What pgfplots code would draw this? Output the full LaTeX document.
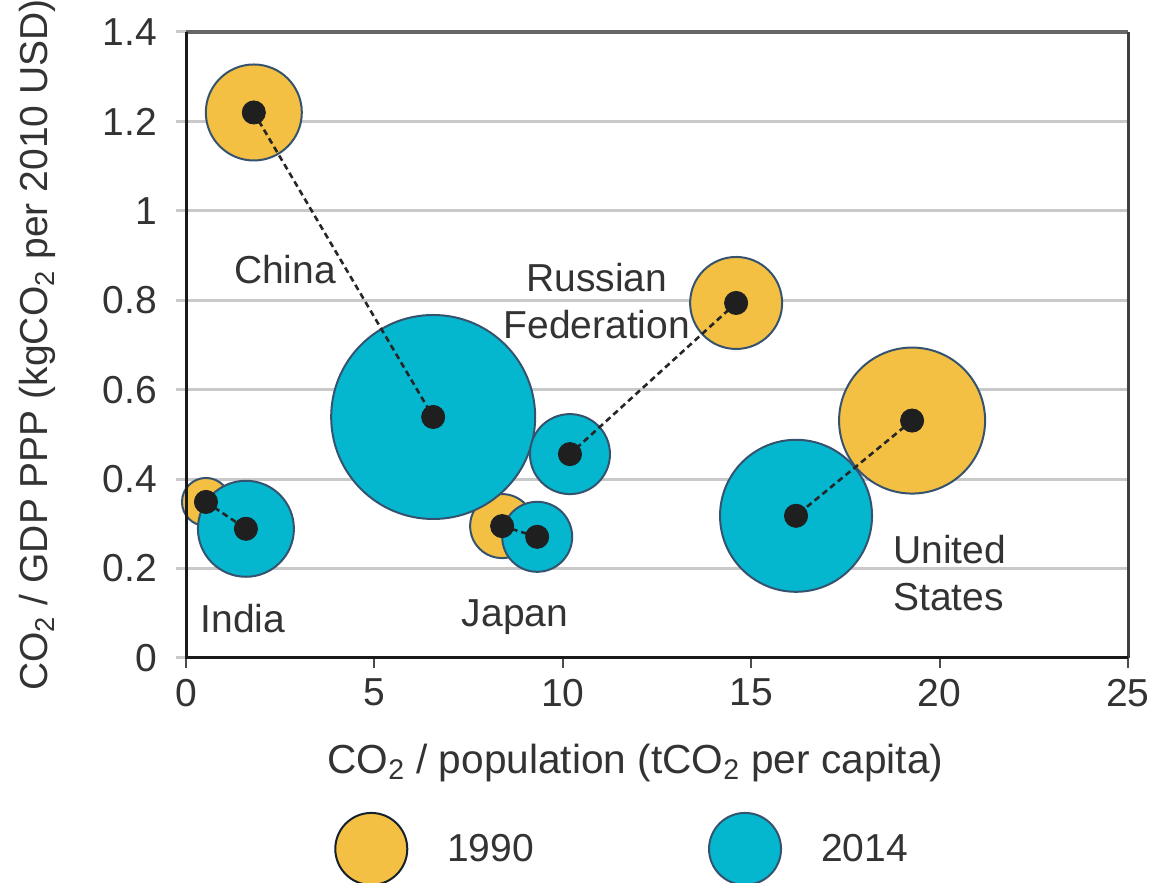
\documentclass[border=0pt]{standalone}
\usepackage{pgfplots}
\pgfplotsset{compat=1.18}
\usepackage{fontspec}
\setmainfont{Liberation Sans}

\definecolor{yel}{HTML}{F4C043}
\definecolor{cya}{HTML}{04B7CF}
\definecolor{edge}{HTML}{35536E}
\definecolor{txt}{HTML}{333333}
\definecolor{gridc}{HTML}{C9C9C9}

% bubble styles; mark size = bubble radius in pt
\pgfplotsset{
  b90/.style={only marks, mark=*, forget plot, mark size=#1,
    mark options={draw=edge, fill=yel, line width=1pt}},
  b14/.style={only marks, mark=*, forget plot, mark size=#1,
    mark options={draw=edge, fill=cya, line width=1pt}},
  link/.style={black!85, line width=1.3pt, dash pattern=on 3pt off 2pt, forget plot},
}

\begin{document}
\begin{tikzpicture}[font=\fontsize{19.5}{23.5}\selectfont, text=txt]
\path[use as bounding box] (0,0) rectangle (576pt,441.5pt);
\begin{axis}[
  at={(93pt,112.5pt)}, anchor=south west,
  scale only axis, width=471pt, height=313pt,
  xmin=0, xmax=25, ymin=0, ymax=1.4,
  xtick={0,5,10,15,20,25},
  ytick={0,0.2,0.4,0.6,0.8,1,1.2,1.4},
  /pgf/number format/assume math mode=true,
  axis line style={draw=none},
  tick align=outside, major tick length=5pt,
  xtick pos=lower, ytick pos=left,
  xtick style={draw=black!70, line width=1pt},
  ytick style={draw=gridc, line width=1.5pt},
  yticklabel style={xshift=-6pt},
  xticklabel style={yshift=-2pt},
  ymajorgrids, major grid style={draw=gridc, line width=1.5pt},
  clip=false, clip mode=individual,
  xlabel={CO\textsubscript{2} / population (tCO\textsubscript{2} per capita)},
  ylabel={CO\textsubscript{2} / GDP PPP (kgCO\textsubscript{2} per 2010 USD)},
  xlabel style={at={(axis description cs:0.477,-0.184)}, anchor=base,
    font=\fontsize{20.3}{24}\selectfont},
  ylabel style={at={(axis description cs:-0.1465,0.5)}, anchor=base},
  legend style={at={(axis description cs:0.157,-0.305)}, anchor=west,
    draw=none, fill=none, inner sep=0pt, nodes={inner sep=0pt},
    /tikz/every odd column/.append style={column sep=19.5pt},
    /tikz/every even column/.append style={column sep=87pt}},
  legend columns=2,
]
% 1990
\addplot[b90=24]   coordinates {(1.80,1.220)};  % China
\addplot[b90=23]   coordinates {(14.60,0.794)}; % Russian Federation
\addplot[b90=36.5] coordinates {(19.27,0.531)}; % United States
\addplot[b90=12]   coordinates {(0.53,0.349)};  % India
\addplot[b90=16]   coordinates {(8.39,0.295)};  % Japan
% 2014
\addplot[b14=51]   coordinates {(6.56,0.539)};
\addplot[b14=20]   coordinates {(10.19,0.456)};
\addplot[b14=38]   coordinates {(16.19,0.318)};
\addplot[b14=24]   coordinates {(1.59,0.289)};
\addplot[b14=17.5] coordinates {(9.32,0.271)};

\addplot[link] coordinates {(1.80,1.220) (6.56,0.539)};
\addplot[link] coordinates {(14.60,0.794) (10.19,0.456)};
\addplot[link] coordinates {(19.27,0.531) (16.19,0.318)};
\addplot[link] coordinates {(0.53,0.349) (1.59,0.289)};
\addplot[link] coordinates {(8.39,0.295) (9.32,0.271)};

\addplot[only marks, mark=*, mark size=5.8pt, color=black!88, forget plot] coordinates {
  (1.80,1.220) (14.60,0.794) (19.27,0.531) (0.53,0.349) (8.39,0.295)
  (6.56,0.539) (10.19,0.456) (16.19,0.318) (1.59,0.289) (9.32,0.271)};

\addlegendimage{legend image code/.code={\draw[fill=yel, draw=black!60!edge, line width=1pt] (0pt,0pt) circle (18pt);}}
\addlegendentry{1990}
\addlegendimage{legend image code/.code={\draw[fill=cya, draw=edge, line width=1pt] (0pt,0pt) circle (18pt);}}
\addlegendentry{2014}

% frame
\draw[line width=2pt, black!60] (rel axis cs:0,1) -- (rel axis cs:1,1);
\draw[line width=1.5pt, black!75] (rel axis cs:1,0) -- (rel axis cs:1,1);
\draw[line width=1.5pt, black!90] (rel axis cs:0,1) -- (rel axis cs:0,0) -- (rel axis cs:1,0);

\node at (axis cs:2.63,0.868) {China};
\node[align=center] at (axis cs:10.9,0.799) {Russian\\Federation};
\node at (axis cs:1.51,0.089) {India};
\node at (axis cs:8.73,0.092) {Japan};
\node[align=left, anchor=west, inner sep=0pt] at (axis cs:18.76,0.19) {United\\States};
\end{axis}
\end{tikzpicture}
\end{document}
